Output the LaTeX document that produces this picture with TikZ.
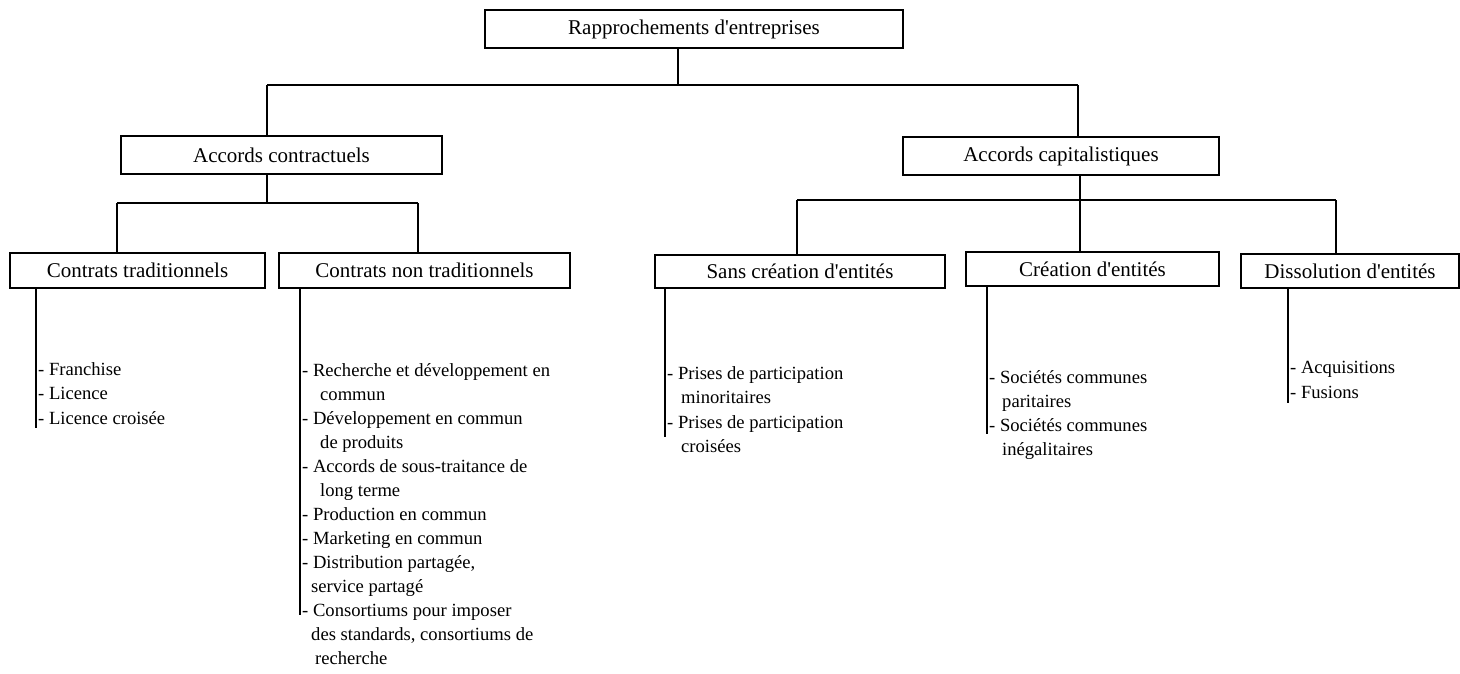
\documentclass[tikz,border=0pt]{standalone}
\usepackage{fontspec}
\setmainfont{Liberation Serif}
\newcommand{\apo}{\textquotesingle}
\begin{document}
\begin{tikzpicture}[x=1pt,y=-1pt,
  box/.style={draw, line width=1.4pt, inner sep=0pt, font=\fontsize{21}{25}\selectfont},
  items/.style={anchor=north west, align=left, inner sep=0pt, font=\fontsize{18.6}{24.6}\selectfont},
  link/.style={draw, line width=1.4pt},
  bar/.style={draw, line width=1.1pt}]
\useasboundingbox (0,0) rectangle (1460,673);

\node[box, minimum width=418pt, minimum height=38pt] (top) at (694,29) {Rapprochements d\apo entreprises};
\node[box, minimum width=321pt, minimum height=38pt] (ac) at (281.5,155) {Accords contractuels};
\node[box, minimum width=316pt, minimum height=38pt] (acap) at (1061,156) {Accords capitalistiques};
\node[box, minimum width=255pt, minimum height=35pt] (ct) at (137.5,270.5) {Contrats traditionnels};
\node[box, minimum width=291pt, minimum height=35pt] (cnt) at (424.5,270.5) {Contrats non traditionnels};
\node[box, minimum width=290pt, minimum height=33pt] (sce) at (800,271.5) {Sans création d\apo entités};
\node[box, minimum width=253pt, minimum height=34pt] (ce) at (1092.5,269) {Création d\apo entités};
\node[box, minimum width=218pt, minimum height=34pt] (de) at (1350,271) {Dissolution d\apo entités};

% first level
\coordinate (j0) at (678,85);
\coordinate (b0l) at (267,85);
\coordinate (b0r) at (1078,85);
\path[link] (top.south -| j0) -- (j0);
\path[link] (b0l) -- (b0r);
\path[link] (b0l) -- (b0l |- ac.north);
\path[link] (b0r) -- (b0r |- acap.north);

% contractuels
\coordinate (j1) at (267,203);
\coordinate (b1l) at (117,203);
\coordinate (b1r) at (418,203);
\path[link] (ac.south -| j1) -- (j1);
\path[link] (b1l) -- (b1r);
\path[link] (b1l) -- (b1l |- ct.north);
\path[link] (b1r) -- (b1r |- cnt.north);

% capitalistiques
\coordinate (j2) at (1080,200);
\coordinate (b2l) at (797,200);
\coordinate (b2r) at (1336,200);
\path[link] (acap.south -| j2) -- (j2);
\path[link] (b2l) -- (b2r);
\path[link] (b2l) -- (b2l |- sce.north);
\path[link] (j2) -- (j2 |- ce.north);
\path[link] (b2r) -- (b2r |- de.north);

% lists
\coordinate (l1) at (36,428);
\coordinate (l2) at (300,615);
\coordinate (l3) at (665,437);
\coordinate (l4) at (987,434);
\coordinate (l5) at (1288,403);
\path[bar] (ct.south -| l1) -- (l1);
\path[bar] (cnt.south -| l2) -- (l2);
\path[bar] (sce.south -| l3) -- (l3);
\path[bar] (ce.south -| l4) -- (l4);
\path[bar] (de.south -| l5) -- (l5);

\node[items] (ctl) at (38,362) {- Franchise\\- Licence\\- Licence croisée};
\node[items, font=\fontsize{18.6}{24}\selectfont] (cntl) at (302,363) {- Recherche et développement en\\
\hspace*{18pt}commun\\
- Développement en commun\\
\hspace*{18pt}de produits\\
- Accords de sous-traitance de\\
\hspace*{18pt}long terme\\
- Production en commun\\
- Marketing en commun\\
- Distribution partagée,\\
\hspace*{9pt}service partagé\\
- Consortiums pour imposer\\
\hspace*{9pt}des standards, consortiums de\\
\hspace*{13pt}recherche};
\node[items] (scel) at (667,366) {- Prises de participation\\
\hspace*{14pt}minoritaires\\
- Prises de participation\\
\hspace*{14pt}croisées};
\node[items, font=\fontsize{18.6}{24}\selectfont] (cel) at (989,370) {- Sociétés communes\\
\hspace*{13pt}paritaires\\
- Sociétés communes\\
\hspace*{13pt}inégalitaires};
\node[items] (del) at (1290,361) {- Acquisitions\\- Fusions};
\end{tikzpicture}
\end{document}
